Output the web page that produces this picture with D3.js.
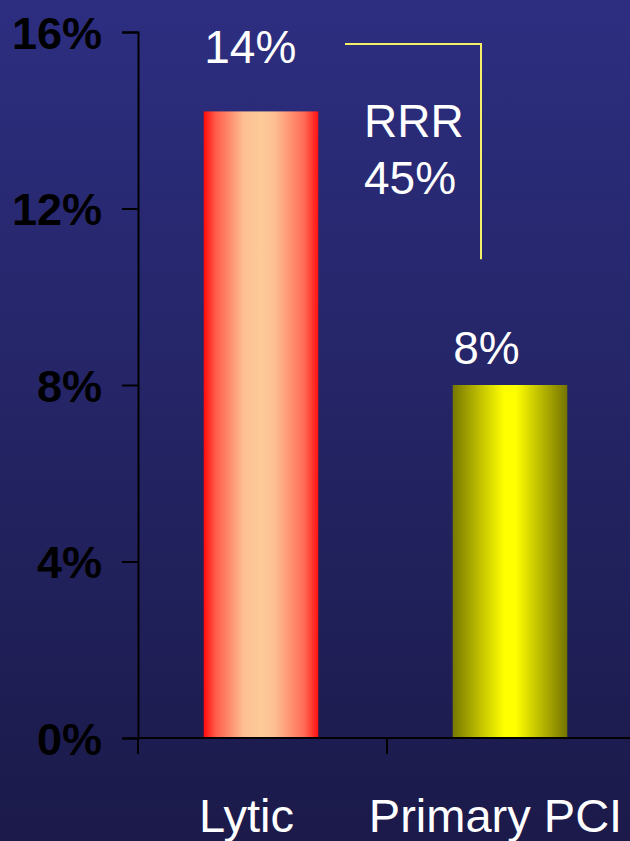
<!DOCTYPE html>
<html>
<head>
<meta charset="utf-8">
<script src="https://cdn.jsdelivr.net/npm/d3@7"></script>
<style>
html,body{margin:0;padding:0;background:#1b1b4b;}
svg{display:block;}
text{font-family:"Liberation Sans",Arial,sans-serif;}
</style>
</head>
<body>
<script>
// ---- data ----
const categories = ["Lytic", "Primary PCI"];
const values = [14.2, 8];
const valueLabels = ["14%", "8%"];
const yTicks = [0, 4, 8, 12, 16];
const rrrLines = ["RRR", "45%"];
const bracketValues = [15.73, 10.85]; // bracket top / bottom in data units

const W = 630, H = 841;
const svg = d3.select("body").append("svg").attr("width", W).attr("height", H);
const defs = svg.append("defs");

// background gradient
const bg = defs.append("linearGradient").attr("id","bg").attr("x1",0).attr("y1",0).attr("x2",0).attr("y2",1);
bg.append("stop").attr("offset",0).attr("stop-color","#2d2e80");
bg.append("stop").attr("offset",1).attr("stop-color","#1b1a4a");
svg.append("rect").attr("width",W).attr("height",H).attr("fill","url(#bg)");

// bar gradients
const gRed = defs.append("linearGradient").attr("id","gRed").attr("x1",0).attr("x2",1).attr("y1",0).attr("y2",0);
[[0,"#ff0a0a"],[0.1,"#ff5a48"],[0.35,"#fdbf92"],[0.5,"#fdcb98"],[0.62,"#fdbf92"],[0.88,"#ff6a55"],[1,"#ff1010"]]
  .forEach(s=>gRed.append("stop").attr("offset",s[0]).attr("stop-color",s[1]));
const gYel = defs.append("linearGradient").attr("id","gYel").attr("x1",0).attr("x2",1).attr("y1",0).attr("y2",0);
[[0,"#777700"],[0.2,"#b5b500"],[0.45,"#ffff00"],[0.55,"#ffff00"],[0.8,"#b0b000"],[1,"#747400"]]
  .forEach(s=>gYel.append("stop").attr("offset",s[0]).attr("stop-color",s[1]));
const fills = ["url(#gRed)","url(#gYel)"];

// scales
const x = d3.scaleBand().domain(categories).range([138, 636]).padding(0);
const y = d3.scaleLinear().domain([0, 16]).range([738, 32]);
const barW = x.bandwidth() * 0.46;

// bars
svg.selectAll("rect.bar").data(categories).join("rect")
  .attr("class","bar")
  .attr("x", d => x(d) + (x.bandwidth() - barW)/2 - 1.5)
  .attr("width", barW)
  .attr("y", (d,i) => y(values[i]))
  .attr("height", (d,i) => y(0) - y(values[i]))
  .attr("fill", (d,i) => fills[i]);

// y axis
const yAxis = d3.axisLeft(y).tickValues(yTicks).tickFormat(d => d + "%").tickSize(16).tickPadding(20);
const gy = svg.append("g").attr("transform","translate(138,0)").call(yAxis);
gy.select(".domain").attr("stroke","#000").attr("stroke-width",2);
gy.selectAll(".tick line").attr("stroke","#000").attr("stroke-width",2);
gy.selectAll(".tick text").attr("fill","#000").attr("font-size",45).attr("font-weight","bold")
  .attr("font-family",'"Liberation Sans",Arial,sans-serif').attr("dy","0.36em");

// x axis with boundary ticks
svg.append("line").attr("x1",137).attr("x2",W).attr("y1",y(0)).attr("y2",y(0)).attr("stroke","#000").attr("stroke-width",2);
const bounds = categories.map(c => x(c)).concat([x.range()[1]]);
svg.selectAll("line.xt").data(bounds).join("line").attr("class","xt")
  .attr("x1",d=>d).attr("x2",d=>d).attr("y1",y(0)).attr("y2",y(0)+16)
  .attr("stroke","#000").attr("stroke-width",2);

// category labels
svg.selectAll("text.cat").data(categories).join("text").attr("class","cat")
  .attr("x", d => x(d) + x.bandwidth()/2 - 16)
  .attr("y", 832)
  .attr("text-anchor","middle").attr("fill","#fff").attr("font-size",47)
  .text(d => d);

// value labels
const labelOffsets = [-48, -21];
svg.selectAll("text.val").data(categories).join("text").attr("class","val")
  .attr("x", d => x(d) + (x.bandwidth() - barW)/2 - 1)
  .attr("y", (d,i) => y(values[i]) + labelOffsets[i])
  .attr("fill","#fff").attr("font-size",46)
  .text((d,i) => valueLabels[i]);

// RRR bracket
const bx0 = 345, bx1 = 481;
svg.append("path")
  .attr("d", `M${bx0},${y(bracketValues[0])}H${bx1}V${y(bracketValues[1])}`)
  .attr("fill","none").attr("stroke","#f4f06a").attr("stroke-width",2);
svg.selectAll("text.rrr").data(rrrLines).join("text").attr("class","rrr")
  .attr("x", 364).attr("y", (d,i) => 137 + i*57)
  .attr("fill","#fff").attr("font-size",46).text(d => d);
</script>
</body>
</html>
